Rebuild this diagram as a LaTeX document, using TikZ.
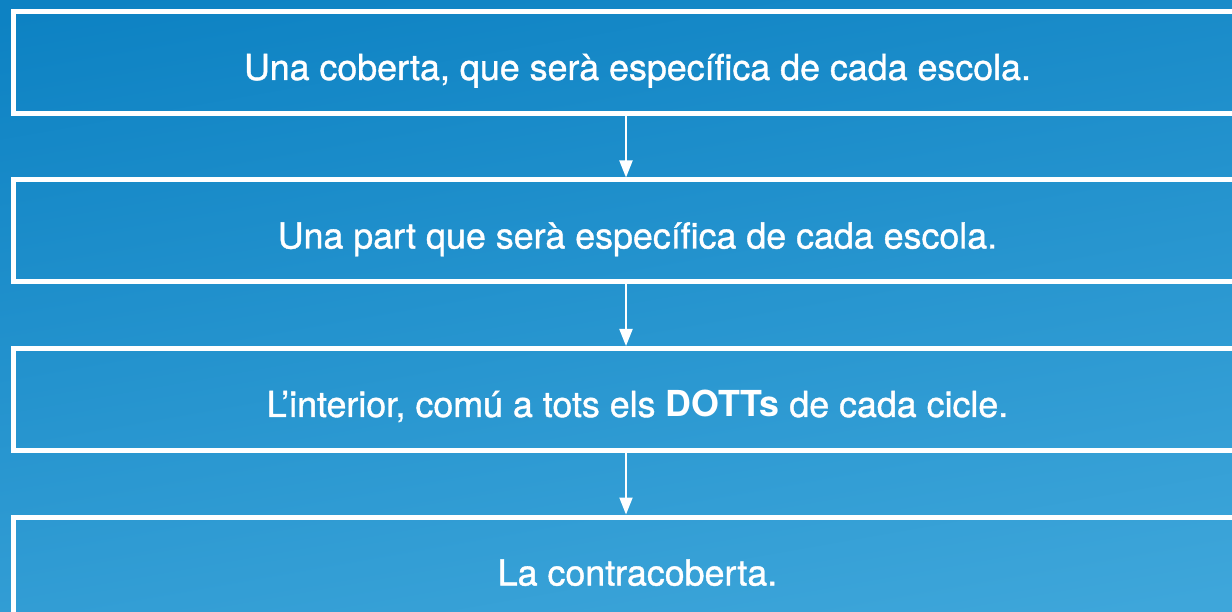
\documentclass[tikz,border=0pt]{standalone}
\usepackage{fontspec}
\setmainfont{TeX Gyre Heros}
\newfontfamily\medfont{TeX Gyre Heros}[UprightFeatures={FakeBold=1.1}]
\usetikzlibrary{positioning,arrows.meta}

\definecolor{bgtop}{RGB}{13,130,195}
\definecolor{bgbot}{RGB}{62,166,218}
\tikzset{
  stage/.style={draw=white,line width=5pt,minimum width=1248.5pt,minimum height=102pt,
    inner sep=0pt,text=white,text height=35pt,text depth=0pt,
    font=\medfont\fontsize{35.8}{40}\selectfont},
  flow/.style={draw=white,line width=2pt,-{Triangle[width=13pt,length=17pt]}}
}

\begin{document}
\begin{tikzpicture}[x=1pt,y=-1pt]
		\useasboundingbox (0,0) rectangle (1232,612);
		\clip (0,0) rectangle (1232,612);
		% background
		\shade[top color=bgtop,bottom color=bgbot,shading angle=10] (-40,-40) rectangle (1272,652);
		% the four parts, running off the right edge
		\node[stage] (box1) at (637.5,62.5) {Una coberta, que serà específica de cada escola.};
		\node[stage,below=61.5pt of box1] (box2) {Una part que serà específica de cada escola.};
		\node[stage,below=61.5pt of box2] (box3) {L’interior, comú a tots els {\normalfont\bfseries DOTTs} de cada cicle.};
		\node[stage,below=61.5pt of box3] (box4) {La contracoberta.};
		\draw[flow]([xshift=-11.5pt]box1.south) -- ([xshift=-11.5pt]box2.north);
		\draw[flow]([xshift=-11.5pt]box2.south) -- ([xshift=-11.5pt]box3.north);
		\draw[flow]([xshift=-11.5pt]box3.south) -- ([xshift=-11.5pt]box4.north);
	\end{tikzpicture}
\end{document}
